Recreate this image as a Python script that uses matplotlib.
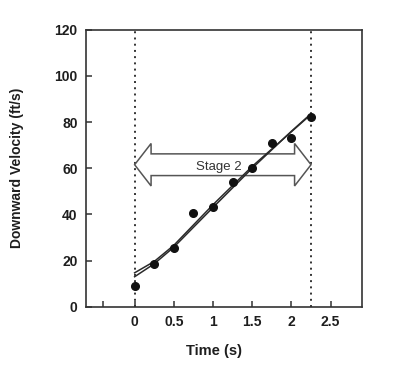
import matplotlib

matplotlib.use("Agg")
import matplotlib.pyplot as plt
from matplotlib.patches import Polygon

# measured points (time in s, downward velocity in ft/s)
time_s = [0, 0.25, 0.5, 0.75, 1.0, 1.25, 1.5, 1.75, 2.0, 2.25]
velocity = [9.0, 18.5, 25.5, 40.7, 43.3, 54.0, 60.2, 70.7, 73.2, 82.0]

fit_t = [0, 0.25, 0.5, 1.0, 1.5, 2.0, 2.25]
fit_a = [14.7, 19.6, 26.6, 44.2, 60.8, 75.8, 83.3]
fit_b = [13.0, 18.6, 25.8, 43.0, 60.0, 76.0, 83.6]

stage_bounds = [0, 2.25]
stage_label = "Stage 2"
stage_level = 61.5

xticks = [-0.4, 0, 0.5, 1, 1.5, 2, 2.5]
xtick_labels = ["", "0", "0.5", "1", "1.5", "2", "2.5"]
yticks = [0, 20, 40, 60, 80, 100, 120]

plt.rcParams["font.family"] = ["Liberation Sans", "DejaVu Sans"]
edge = "#333333"
ink = "#1e1e1e"

fig = plt.figure(figsize=(4.0, 3.75), dpi=100)
ax = fig.add_axes([0.215, 0.182, 0.69, 0.739])

# dotted stage boundaries
for xb in stage_bounds:
    ax.axvline(xb, color=edge, ls=(0, (1, 2.2)), lw=1.4, zorder=1)

# hollow double-headed arrow spanning the stage
x0, x1 = stage_bounds
head_len = 0.21
head_h = 9.2
shaft_h = 4.7
y = stage_level
verts = [
    (x0, y), (x0 + head_len, y + head_h), (x0 + head_len, y + shaft_h),
    (x1 - head_len, y + shaft_h), (x1 - head_len, y + head_h), (x1, y),
    (x1 - head_len, y - head_h), (x1 - head_len, y - shaft_h),
    (x0 + head_len, y - shaft_h), (x0 + head_len, y - head_h),
]
ax.add_patch(Polygon(verts, closed=True, facecolor="white", edgecolor="#555555",
                     lw=1.1, zorder=2))
ax.text(1.07, y - 0.8, stage_label, ha="center", va="center",
        fontsize=9.5, color="#333333", zorder=3)

# fits and data
ax.plot(fit_t, fit_a, color="#2a2a2a", lw=1.1, zorder=4)
ax.plot(fit_t, fit_b, color="#2a2a2a", lw=1.1, zorder=4)
ax.plot(time_s, velocity, "o", color="#111111", ms=5.5, zorder=5)

ax.set_xlim(-0.62, 2.9)
ax.set_ylim(0, 120)
ax.set_xticks(xticks)
ax.set_xticklabels(xtick_labels)
ax.set_yticks(yticks)
ax.tick_params(direction="in", length=4, width=1.1, color=edge,
               labelsize=10, labelcolor=ink)
ax.tick_params(axis="x", pad=6)
ax.tick_params(axis="y", pad=6)
for lab in ax.get_xticklabels() + ax.get_yticklabels():
    lab.set_fontweight("bold")
for sp in ax.spines.values():
    sp.set_color(edge)
    sp.set_linewidth(1.2)

ax.set_xlabel("Time (s)", fontsize=10.5, color=ink, fontweight="bold")
ax.set_ylabel("Downward Velocity (ft/s)", fontsize=10, color=ink, fontweight="bold")
ax.xaxis.set_label_coords(0.464, -0.135)
ax.yaxis.set_label_coords(-0.225, 0.5)

fig.savefig("out.png", dpi=100, facecolor="white")
plt.close(fig)
